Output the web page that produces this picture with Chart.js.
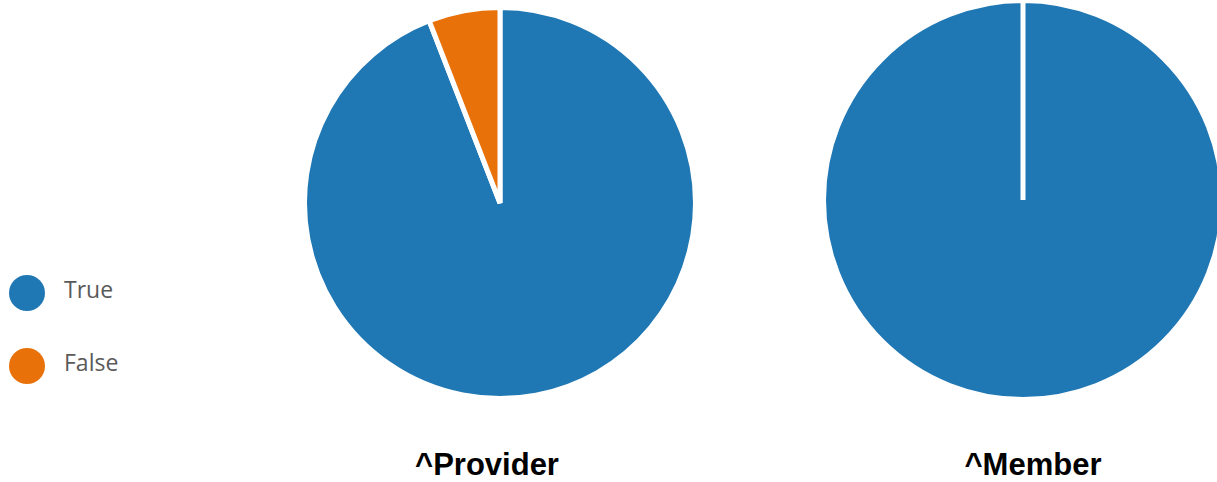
<!DOCTYPE html>
<html>
<head>
<meta charset="utf-8">
<script src="https://cdn.jsdelivr.net/npm/chart.js@4/dist/chart.umd.min.js"></script>
<style>
  html, body { margin: 0; padding: 0; background: #fff; overflow: hidden; }
  #page { position: relative; width: 1217px; height: 482px; overflow: hidden; }
  .pie { position: absolute; }
  #pie-provider { left: 302px; top: 5px; }
  #pie-member { left: 821px; top: -2px; }
  .titre {
    position: absolute; top: 447px; width: 300px; text-align: center;
    font-family: 'Liberation Sans', Arial, sans-serif; font-weight: bold; font-size: 31px; color: #000;
  }
  #legende { position: absolute; left: 9px; top: 275px; font-family: 'Open Sans', sans-serif; }
  .item { position: relative; height: 73px; }
  .puce { position: absolute; left: 0; top: 0; width: 36px; height: 36px; border-radius: 50%; }
  .libelle { position: absolute; left: 55px; top: -2px; font-size: 23px; color: #5a5a5a; line-height: 32px; }
</style>
</head>
<body>
<div id="page">
  <div id="legende"></div>
  <canvas id="pie-provider" class="pie" width="396" height="396"></canvas>
  <canvas id="pie-member" class="pie" width="404" height="404"></canvas>
  <div class="titre" style="left:337px">^Provider</div>
  <div class="titre" style="left:883px">^Member</div>
</div>
<script>
  // Données (en pourcentage)
  var categories = ['True', 'False'];
  var couleurs = ['#1f77b4', '#e8710a'];
  var valeursProvider = [94.1, 5.9];
  var valeursMember = [100, 0];

  // Légende commune, construite à partir des catégories
  var legende = document.getElementById('legende');
  categories.forEach(function(cat, i) {
    var item = document.createElement('div');
    item.className = 'item';
    item.innerHTML = '<span class="puce" style="background:' + couleurs[i] + '"></span>' +
      '<span class="libelle">' + cat + '</span>';
    legende.appendChild(item);
  });

  // Options communes des camemberts
  var options = {
    responsive: false,
    animation: false,
    layout: { padding: 0 },
    plugins: {
      legend: { display: false },
      tooltip: { enabled: false }
    }
  };

  var getData = function(valeurs) {
    return {
      labels: categories,
      datasets: [{
        data: valeurs,
        backgroundColor: couleurs,
        borderColor: '#ffffff',
        borderWidth: 5
      }]
    };
  };

  new Chart(document.getElementById('pie-provider'), { type: 'pie', data: getData(valeursProvider), options: options });
  new Chart(document.getElementById('pie-member'), { type: 'pie', data: getData(valeursMember), options: options });
</script>
</body>
</html>
